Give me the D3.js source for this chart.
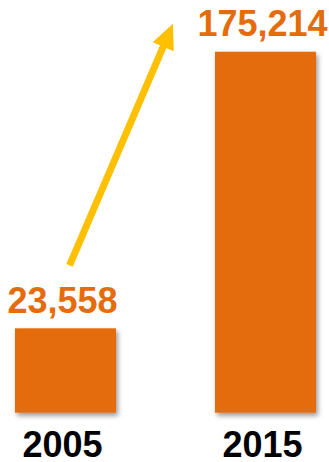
<!DOCTYPE html>
<html>
<head>
<meta charset="utf-8">
<script src="https://cdn.jsdelivr.net/npm/d3@7"></script>
<style>
  html, body { margin: 0; padding: 0; background: #fff; }
  svg { display: block; }
</style>
</head>
<body>
<svg id="chart" width="329" height="462"></svg>
<script>
// Category years and their totals
const years = ["2005", "2015"];
const totals = [23558, 175214];
const valueLabels = ["23,558", "175,214"];

const W = 329, H = 462;
const baseY = 412.7, topY = 51.7;

const svg = d3.select("#chart");

// Shadow under the bars
const defs = svg.append("defs");
const shadow = defs.append("filter")
  .attr("id", "barShadow")
  .attr("x", "-20%").attr("y", "-20%")
  .attr("width", "150%").attr("height", "150%");
shadow.append("feDropShadow")
  .attr("dx", 2).attr("dy", 3)
  .attr("stdDeviation", 2.8)
  .attr("flood-color", "#000")
  .attr("flood-opacity", 0.4);

const x = d3.scaleBand()
  .domain(years)
  .range([15, 316])
  .paddingInner(0.495)
  .paddingOuter(0);

// Value axis with a lowered floor so the small bar stays visible
const y = d3.scaleLinear()
  .domain([-22700, d3.max(totals)])
  .range([baseY, topY]);

const data = years.map((yr, i) => ({ year: yr, value: totals[i], label: valueLabels[i] }));

const orange = "#E46C0A";

svg.append("g")
  .selectAll("rect")
  .data(data)
  .join("rect")
  .attr("x", d => x(d.year))
  .attr("y", d => y(d.value))
  .attr("width", x.bandwidth())
  .attr("height", d => baseY - y(d.value))
  .attr("fill", orange)
  .attr("filter", "url(#barShadow)");

// Value labels above each bar
svg.append("g")
  .selectAll("text")
  .data(data)
  .join("text")
  .attr("x", d => x(d.year) + x.bandwidth() / 2 - 3)
  .attr("y", d => y(d.value) - 15.5)
  .attr("text-anchor", "middle")
  .attr("font-family", "'Liberation Sans', Arial, sans-serif")
  .attr("font-weight", "bold")
  .attr("font-size", 36)
  .attr("fill", orange)
  .text(d => d.label);

// Year labels under the bars
svg.append("g")
  .selectAll("text")
  .data(data)
  .join("text")
  .attr("x", d => x(d.year) + x.bandwidth() / 2 - 3)
  .attr("y", baseY + 44.5)
  .attr("text-anchor", "middle")
  .attr("font-family", "'Liberation Sans', Arial, sans-serif")
  .attr("font-weight", "bold")
  .attr("font-size", 36)
  .attr("fill", "#000")
  .text(d => d.year);

// Growth arrow rising from the first label toward the second
const x0 = x(years[0]) + x.bandwidth() * 0.54;
const y0 = y(totals[0]) - 63;
const x1 = x(years[1]) - 42;
const y1 = y(totals[1]) - 28;
const ang = Math.atan2(y1 - y0, x1 - x0);
const headLen = 25, headHalf = 11.5, shaftW = 7;
const bx = x1 - headLen * Math.cos(ang), by = y1 - headLen * Math.sin(ang);
const nx = -Math.sin(ang), ny = Math.cos(ang);

svg.append("line")
  .attr("x1", x0).attr("y1", y0)
  .attr("x2", bx + 1 * Math.cos(ang)).attr("y2", by + 1 * Math.sin(ang))
  .attr("stroke", "#FFC000")
  .attr("stroke-width", shaftW);

svg.append("path")
  .attr("d", d3.line()([
    [x1, y1],
    [bx + nx * headHalf, by + ny * headHalf],
    [bx - nx * headHalf, by - ny * headHalf]
  ]) + "Z")
  .attr("fill", "#FFC000");
</script>
</body>
</html>
